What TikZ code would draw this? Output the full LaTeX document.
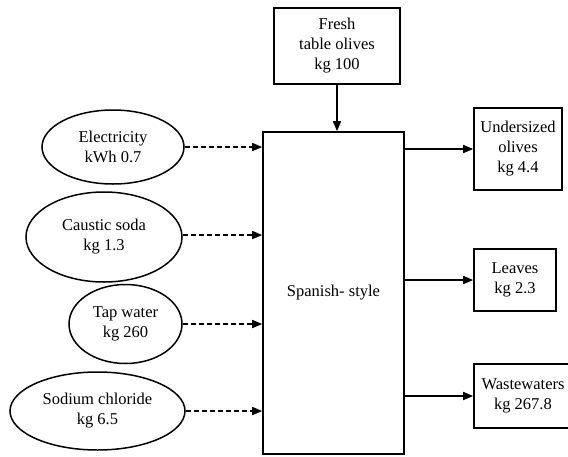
\documentclass[tikz,border=0pt]{standalone}
\usepackage{fontspec}
\setmainfont{Liberation Serif}
\newfontfamily\tnr{Liberation Serif}
\usetikzlibrary{shapes.geometric,arrows.meta,calc}
\begin{document}
\begin{tikzpicture}[x=1pt,y=-1pt,
  every node/.style={font=\tnr\fontsize{16.5}{20}\selectfont, align=center, inner sep=0pt},
  boxn/.style={draw, line width=1.6pt, rectangle},
  elln/.style={draw, line width=1.5pt, ellipse},
  flow/.style={line width=1.6pt, -{Triangle[length=10pt,width=8pt]}},
  dflow/.style={line width=1.6pt, dash pattern=on 5pt off 3pt, -{Triangle[length=10pt,width=8pt]}}]
\useasboundingbox (0,0) rectangle (568,456);
\begin{scope}
\clip (0,0) rectangle (568,456);
\node[boxn, minimum width=126pt, minimum height=76pt] (fresh) at (337,46) {Fresh\\table olives\\kg 100};
\node[boxn, minimum width=141pt, minimum height=322pt] (main) at (333.5,293) {Spanish- style};
\node[boxn, minimum width=88pt, minimum height=82pt] (und) at (518,149) {Undersized\\olives\\kg 4.4};
\node[boxn, minimum width=82pt, minimum height=62pt] (leaves) at (515,280) {Leaves\\kg 2.3};
\node[boxn, minimum width=98pt, minimum height=64pt] (waste) at (523,396) {Wastewaters\\kg 267.8};
\node[elln, minimum width=142pt, minimum height=74pt] (elec) at (113,147) {Electricity\\kWh 0.7};
\node[elln, minimum width=156pt, minimum height=90pt] (soda) at (104,237) {Caustic soda\\kg 1.3};
\node[elln, minimum width=113pt, minimum height=79pt] (tap) at (125.5,324) {Tap water\\kg 260};
\node[elln, minimum width=175pt, minimum height=78pt] (salt) at (97.5,411) {Sodium chloride\\kg 6.5};
\end{scope}
\draw[flow] (fresh.south) -- (fresh.south |- main.north);
\draw[flow] (main.east |- und.west) -- (und.west);
\draw[flow] (main.east |- leaves.west) -- (leaves.west);
\draw[flow] (main.east |- waste.west) -- (waste.west);
\draw[dflow] (elec.east) -- (elec.east -| main.west);
\draw[dflow] ($(soda.east)+(0,-2)$) -- ($(soda.east -| main.west)+(0,-2)$);
\draw[dflow] (tap.east) -- (tap.east -| main.west);
\draw[dflow] (salt.east) -- (salt.east -| main.west);
\end{tikzpicture}
\end{document}
